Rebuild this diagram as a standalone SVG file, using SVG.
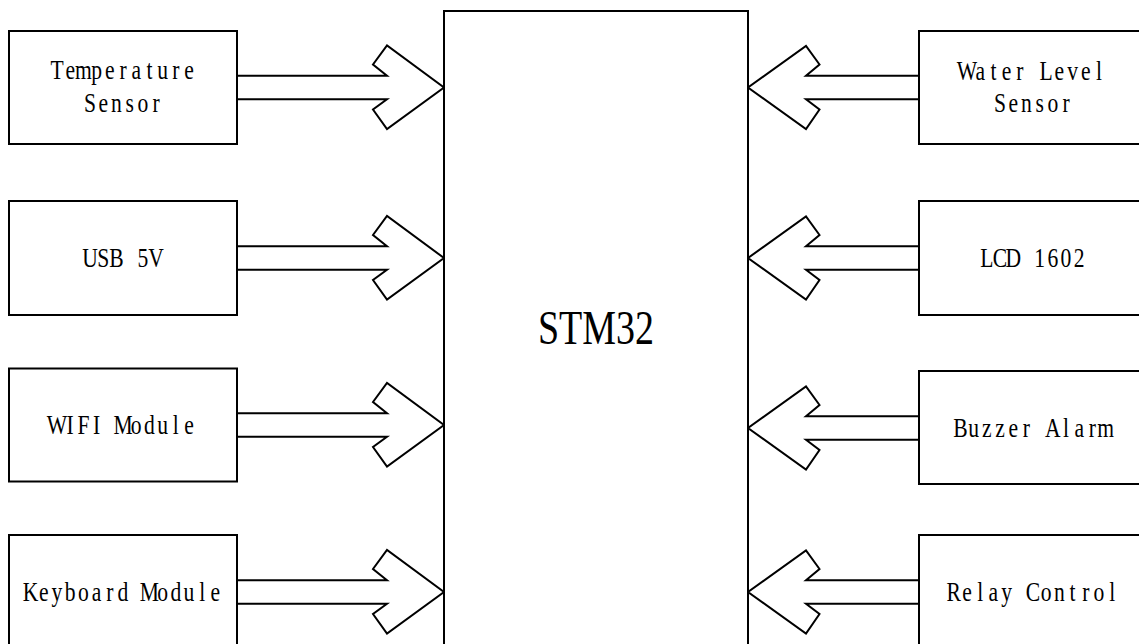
<svg xmlns="http://www.w3.org/2000/svg" width="1139" height="644" viewBox="0 0 1139 644">
<style>
.box{fill:#fff;stroke:#000;stroke-width:2}
.arr{fill:#fff;stroke:#000;stroke-width:2;stroke-linejoin:miter}
.lbl{font-family:"Liberation Serif",serif;font-size:27px;fill:#000;text-anchor:middle}
.big{font-family:"Liberation Serif",serif;font-size:48px;fill:#000;text-anchor:middle}
</style>
<defs>
<path id="arrL" d="M237,-11.7 H387 L373,-23 L387,-42 L444,0 L387,41.5 L373,22 L387,11.7 H237"/>
<path id="arrR" d="M919,-11.7 H806 L819.5,-23 L806,-41.5 L748,0 L806,41.5 L819.5,22 L806,11.7 H919"/>
</defs>
<g id="connectors">
<use href="#arrL" class="arr" transform="translate(0,87.5)"/>
<use href="#arrL" class="arr" transform="translate(0,258)"/>
<use href="#arrL" class="arr" transform="translate(0,425)"/>
<use href="#arrL" class="arr" transform="translate(0,592)"/>
<use href="#arrR" class="arr" transform="translate(0,87.5)"/>
<use href="#arrR" class="arr" transform="translate(0,258)"/>
<use href="#arrR" class="arr" transform="translate(0,428)"/>
<use href="#arrR" class="arr" transform="translate(0,592)"/>
</g>
<g id="stm32">
<rect class="box" x="444" y="11" width="304" height="650"/>
<text class="big" x="596" y="344" textLength="116" lengthAdjust="spacingAndGlyphs">STM32</text>
</g>
<g id="temperature">
<rect class="box" x="9" y="31" width="228" height="113"/>
<g transform="translate(123,79) scale(0.8,1)"><text class="lbl" x="-82.5 -66 -49.5 -33 -16.5 0 16.5 33 49.5 66 82.5" y="0">Temperature</text></g>
<g transform="translate(123,111.7) scale(0.8,1)"><text class="lbl" x="-41.25 -24.75 -8.25 8.25 24.75 41.25" y="0">Sensor</text></g>
</g>
<g id="usb">
<rect class="box" x="9" y="201" width="228" height="114"/>
<g transform="translate(123,267) scale(0.8,1)"><text class="lbl" x="-41.25 -24.75 -8.25 8.25 24.75 41.25" y="0">USB 5V</text></g>
</g>
<g id="wifi">
<rect class="box" x="9" y="368.5" width="228" height="113"/>
<g transform="translate(123,434) scale(0.8,1)"><text class="lbl" x="-82.5 -66 -49.5 -33 -16.5 0 16.5 33 49.5 66 82.5" y="0">WIFI Module</text></g>
</g>
<g id="keyboard">
<rect class="box" x="9" y="535" width="228" height="130"/>
<g transform="translate(123,601) scale(0.8,1)"><text class="lbl" x="-115.5 -99 -82.5 -66 -49.5 -33 -16.5 0 16.5 33 49.5 66 82.5 99 115.5" y="0">Keyboard Module</text></g>
</g>
<g id="waterlevel">
<path class="box" d="M1140,31 H919 V144 H1140"/>
<g transform="translate(1033,79.5) scale(0.8,1)"><text class="lbl" x="-82.5 -66 -49.5 -33 -16.5 0 16.5 33 49.5 66 82.5" y="0">Water Level</text></g>
<g transform="translate(1033,112) scale(0.8,1)"><text class="lbl" x="-41.25 -24.75 -8.25 8.25 24.75 41.25" y="0">Sensor</text></g>
</g>
<g id="lcd">
<path class="box" d="M1140,201 H919 V315 H1140"/>
<g transform="translate(1033,267) scale(0.8,1)"><text class="lbl" x="-57.75 -41.25 -24.75 -8.25 8.25 24.75 41.25 57.75" y="0">LCD 1602</text></g>
</g>
<g id="buzzer">
<path class="box" d="M1140,371 H919 V484 H1140"/>
<g transform="translate(1033,436.7) scale(0.8,1)"><text class="lbl" x="-90.75 -74.25 -57.75 -41.25 -24.75 -8.25 8.25 24.75 41.25 57.75 74.25 90.75" y="0">Buzzer Alarm</text></g>
</g>
<g id="relay">
<path class="box" d="M1140,535 H919 V650"/>
<g transform="translate(1033,601) scale(0.8,1)"><text class="lbl" x="-99 -82.5 -66 -49.5 -33 -16.5 0 16.5 33 49.5 66 82.5 99" y="0">Relay Control</text></g>
</g>
</svg>
